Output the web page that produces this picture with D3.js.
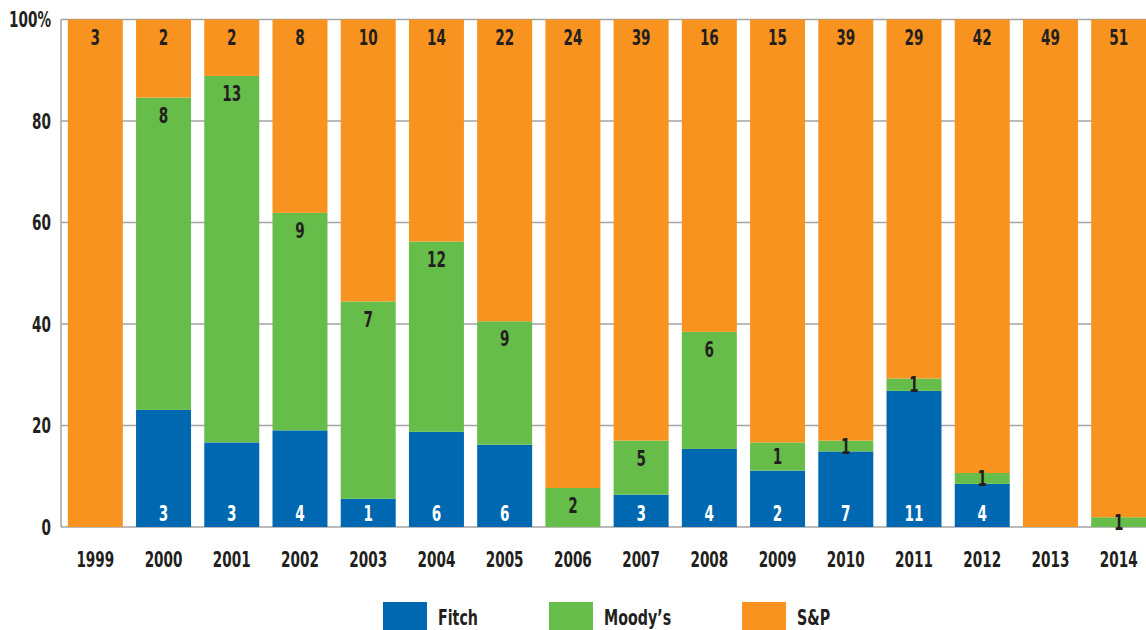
<!DOCTYPE html>
<html>
<head>
<meta charset="utf-8">
<script src="https://cdn.jsdelivr.net/npm/d3@7"></script>
<style>
  body { margin: 0; background: #fff; }
  svg text { font-family: "Liberation Sans Narrow", "DejaVu Sans Condensed", "Roboto", sans-serif; font-weight: bold; font-stretch: condensed; }
</style>
</head>
<body>
<div id="chart"></div>
<script>
// counts per agency
var years = ['1999', '2000', '2001', '2002', '2003', '2004', '2005', '2006', '2007', '2008', '2009', '2010', '2011', '2012', '2013', '2014']
var fitch = [0, 3, 3, 4, 1, 6, 6, 0, 3, 4, 2, 7, 11, 4, 0, 0]
var moodys = [0, 8, 13, 9, 7, 12, 9, 2, 5, 6, 1, 1, 1, 1, 0, 1]
var sp = [3, 2, 2, 8, 10, 14, 22, 24, 39, 16, 15, 39, 29, 42, 49, 51]
var yTicks = [0, 20, 40, 60, 80, 100]

var keys = ['fitch', 'moodys', 'sp']
var names = {fitch: 'Fitch', moodys: 'Moody\u2019s', sp: 'S&P'}
var colors = {fitch: '#0067b1', moodys: '#67bd4a', sp: '#f7931e'}
var dark = '#231f20'
var squeeze = 0.72 // no condensed face installed, so narrow the glyphs by hand

var width = 1146
var height = 630

var svg = d3.select('#chart')
    .append('svg')
    .attr('width', width)
    .attr('height', height)

var rows = years.map((y, i) => {
    let total = fitch[i] + moodys[i] + sp[i]
    return {
        year: y,
        counts: {fitch: fitch[i], moodys: moodys[i], sp: sp[i]},
        fitch: fitch[i] / total * 100,
        moodys: moodys[i] / total * 100,
        sp: sp[i] / total * 100
    }
})

var x = d3.scaleBand().domain(years).range([61, 1153]).paddingInner(0.194).paddingOuter(0.1)
var y = d3.scaleLinear().domain([0, 100]).range([527, 19.5])

function place(px, py) {
    return `translate(${px}, ${py}) scale(${squeeze}, 1)`
}

// gridlines
svg.append('g')
    .selectAll('line')
    .data(yTicks)
    .enter().append('line')
    .attr('x1', 61)
    .attr('x2', width)
    .attr('y1', d => y(d))
    .attr('y2', d => y(d))
    .attr('stroke', '#a3a3a3')
    .attr('stroke-width', 1.5)

svg.append('line')
    .attr('x1', 61).attr('x2', 61)
    .attr('y1', y(100)).attr('y2', y(0))
    .attr('stroke', '#a3a3a3')
    .attr('stroke-width', 1.5)

var stack = d3.stack().keys(keys)(rows)

var layers = svg.append('g')
    .selectAll('g')
    .data(stack)
    .enter().append('g')
    .attr('fill', d => colors[d.key])

layers.selectAll('rect')
    .data(d => d.map(p => ({p: p, key: d.key})))
    .enter().append('rect')
    .attr('x', d => x(d.p.data.year))
    .attr('y', d => y(d.p[1]))
    .attr('width', x.bandwidth())
    .attr('height', d => y(d.p[0]) - y(d.p[1]))

// value labels
var labels = []
stack.forEach(layer => {
    layer.forEach(p => {
        let n = p.data.counts[layer.key]
        if (!n) return
        let top = y(p[1])
        let bottom = y(p[0])
        let mid = (top + bottom) / 2
        let cy = layer.key === 'fitch' ? Math.max(bottom - 13.5, mid) : Math.min(top + 17.5, mid)
        labels.push({key: layer.key, year: p.data.year, n: n, cy: cy})
    })
})

svg.append('g')
    .selectAll('text')
    .data(labels)
    .enter().append('text')
    .attr('transform', d => place(x(d.year) + x.bandwidth() / 2, d.cy))
    .attr('dy', '0.36em')
    .attr('text-anchor', 'middle')
    .attr('font-size', 21)
    .attr('fill', d => d.key === 'fitch' ? '#fff' : dark)
    .text(d => d.n)

// y axis labels
svg.append('g')
    .selectAll('text')
    .data(yTicks)
    .enter().append('text')
    .attr('transform', d => place(51, y(d)))
    .attr('dy', '0.36em')
    .attr('text-anchor', 'end')
    .attr('font-size', 21)
    .attr('fill', dark)
    .text(d => d === 100 ? '100%' : d)

// x axis labels
svg.append('g')
    .selectAll('text')
    .data(years)
    .enter().append('text')
    .attr('transform', d => place(x(d) + x.bandwidth() / 2, 566.5))
    .attr('text-anchor', 'middle')
    .attr('font-size', 21)
    .attr('fill', dark)
    .text(d => d)

// legend
var legendX = [383, 549, 742]
var legend = svg.append('g')
    .selectAll('g')
    .data(keys)
    .enter().append('g')
    .attr('transform', (d, i) => `translate(${legendX[i]}, 602)`)

legend.append('rect')
    .attr('width', 44)
    .attr('height', 28)
    .attr('fill', d => colors[d])

legend.append('text')
    .attr('transform', place(55, 22.5))
    .attr('font-size', 22)
    .attr('fill', dark)
    .text(d => names[d])
</script>
</body>
</html>
